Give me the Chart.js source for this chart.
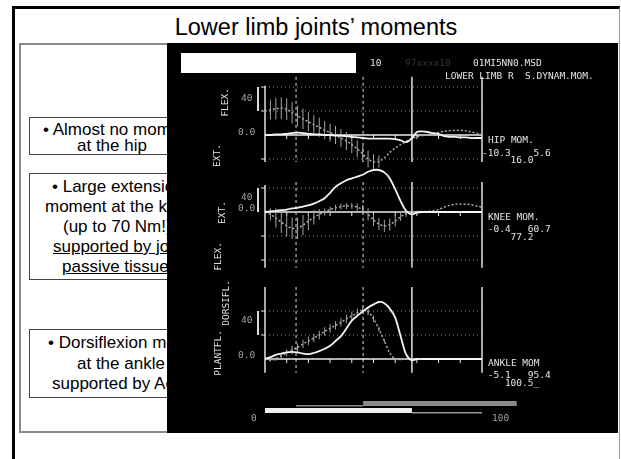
<!DOCTYPE html>
<html>
<head>
<meta charset="utf-8">
<title>Lower limb joints' moments</title>
<script src="https://cdn.jsdelivr.net/npm/chart.js@4.4.1/dist/chart.umd.min.js"></script>
<style>
  html, body { margin: 0; padding: 0; background: #fff; }
  #slide { position: relative; width: 621px; height: 459px; overflow: hidden; font-family: 'Liberation Sans', Arial, sans-serif; }
  .abs { position: absolute; }
  #frame { left: 12px; top: 6px; width: 604px; height: 470px; border-left: 3px solid #000; border-top: 3px solid #000; border-right: 1px solid #9a9a9a; }
  #title { left: 12px; width: 608px; top: 15px; font-size: 23.5px; line-height: 24px; text-align: center; color: #000; }
  #sidebox { left: 19px; top: 43px; width: 200px; height: 390px; box-sizing: border-box; border: 2px solid #8a8a8a; }
  .note { box-sizing: border-box; border: 1px solid #444; left: 29px; width: 190px; }
  .line { font-size: 17px; line-height: 20px; white-space: nowrap; color: #000; }
  .u { text-decoration: underline; }
  #panel { left: 167px; top: 43px; width: 451px; height: 390px; background: #000; }
  .mono { font-family: 'DejaVu Sans Mono', 'Liberation Mono', monospace; font-size: 9.5px; line-height: 10px; color: #e4e4e4; white-space: pre; }
  .vert { writing-mode: vertical-rl; transform: rotate(180deg); }
  .dim { color: #a0a0a0; }
</style>
</head>
<body>
<div id="slide">
  <div id="frame" class="abs"></div>
  <div id="title" class="abs">Lower limb joints’ moments</div>
  <div id="sidebox" class="abs"></div>

  <div class="abs note" style="top:117px;height:38px;"></div>
  <div class="abs line" style="left:43px;top:120px;">• Almost no moment</div>
  <div class="abs line" style="left:77px;top:136px;">at the hip</div>

  <div class="abs note" style="top:173px;height:107px;"></div>
  <div class="abs line" style="left:52px;top:177px;">• Large extension</div>
  <div class="abs line" style="left:45px;top:197px;">moment at the knee</div>
  <div class="abs line" style="left:63px;top:217px;">(up to 70 Nm!)</div>
  <div class="abs line u" style="left:53px;top:237px;">supported by joint</div>
  <div class="abs line u" style="left:62px;top:257px;">passive tissues</div>

  <div class="abs note" style="top:329px;height:69px;"></div>
  <div class="abs line" style="left:48px;top:333px;">• Dorsiflexion moment</div>
  <div class="abs line" style="left:77px;top:354px;">at the ankle</div>
  <div class="abs line" style="left:52px;top:374px;">supported by Achilles</div>

  <div id="panel" class="abs"><canvas id="moments" width="451" height="390"></canvas></div>

  <div class="abs" style="left:181px;top:53px;width:175px;height:20px;background:#fff;"></div>
  <div class="abs mono" style="left:370px;top:58px;">10</div>
  <div class="abs mono" style="left:405px;top:58px;color:#333;">97xxxx10</div>
  <div class="abs mono" style="left:473px;top:58px;">01MI5NN0.MSD</div>
  <div class="abs mono" style="left:445px;top:71px;">LOWER LIMB R  S.DYNAM.MOM.</div>

  <div class="abs mono vert" style="left:220px;top:88px;">FLEX.</div>
  <div class="abs mono vert" style="left:212px;top:144px;">EXT.</div>
  <div class="abs mono dim" style="left:241px;top:93px;">40</div>
  <div class="abs mono dim" style="left:238px;top:127px;">0.0</div>

  <div class="abs mono vert" style="left:217px;top:201px;">EXT.</div>
  <div class="abs mono vert" style="left:213px;top:242px;">FLEX.</div>
  <div class="abs mono dim" style="left:241px;top:192px;">40</div>
  <div class="abs mono dim" style="left:238px;top:203px;">0.0</div>

  <div class="abs mono vert" style="left:221px;top:280px;">DORSIFL.</div>
  <div class="abs mono vert" style="left:213px;top:330px;">PLANTFL.</div>
  <div class="abs mono dim" style="left:241px;top:315px;">40</div>
  <div class="abs mono dim" style="left:238px;top:350px;">0.0</div>

  <div class="abs mono" style="left:488px;top:135px;">HIP MOM.</div>
  <div class="abs mono" style="left:482px;top:148px;">-10.3    5.6</div>
  <div class="abs mono" style="left:482px;top:155px;">     16.0</div>

  <div class="abs mono" style="left:488px;top:212px;">KNEE MOM.</div>
  <div class="abs mono" style="left:482px;top:224px;"> -0.4   60.7</div>
  <div class="abs mono" style="left:482px;top:232px;">     77.2</div>

  <div class="abs mono" style="left:488px;top:358px;">ANKLE MOM</div>
  <div class="abs mono" style="left:482px;top:370px;"> -5.1   95.4</div>
  <div class="abs mono" style="left:482px;top:378px;">    100.5_</div>

  <div class="abs mono dim" style="left:251px;top:413px;">0</div>
  <div class="abs mono dim" style="left:492px;top:413px;">100</div>
</div>

<script>
// % of gait cycle
const gaitCycle = [0, 2.5, 5, 7.5, 10, 12.5, 15, 17.5, 20, 22.5, 25, 27.5, 30, 32.5, 35, 37.5, 40, 42.5, 45, 47.5,
    50, 52.5, 55, 57.5, 60, 62.5, 65, 67.5, 70, 72.5, 75, 77.5, 80, 82.5, 85, 87.5, 90, 92.5, 95, 97.5, 100];

// Hip moment (Nm)
const hipPatient = [0, 0, 1, 1, 2, 3, 4, 3, 2, 1, 1, 0, 0, -1, -1, -2, -3, -4, -5, -6,
    -6, -6, -6, -6, -7, -9, -12, -6, 5, 6, 5, 3, 2, -2, -3, -3, -4, -4, -5, -5, -5];
const hipNormal = [40, 42, 44, 45, 43, 37, 32, 27, 22, 17, 13, 8, 4, 0, -5, -10, -16, -23, -31, -40,
    -45, -44, -38, -29, -22, -16, -11, -6, -3, -1, 1, 2, 4, 6, 7, 8, 8, 7, 5, 3, 1];
const hipSD = [10, 16, 18, 18, 18, 18, 17, 17, 16, 16, 16, 15, 15, 15, 15, 15, 14, 14, 14, 14,
    13, 10, 0, 0, 0, 0, 0, 0, 0, 0, 0, 0, 0, 0, 0, 0, 0, 0, 0, 0, 0];

// Knee moment (Nm)
const kneePatient = [0, 1, 2, 3, 4, 6, 7, 9, 11, 14, 18, 23, 32, 42, 48, 53, 56, 59, 62, 67,
    70, 70, 66, 56, 38, 18, 2, -4, -1, 0, 0, 0, 0, 0, 0, 0, 0, 0, 0, 0, 0];
const kneeNormal = [0, -4, -10, -17, -23, -27, -27, -22, -15, -9, -4, 0, 4, 7, 9, 10, 10, 8, 4, -4,
    -13, -20, -23, -21, -15, -8, -3, 0, 1, 1, 1, 2, 4, 8, 11, 13, 13, 13, 12, 10, 8];
const kneeSD = [4, 10, 16, 18, 18, 18, 18, 17, 15, 12, 9, 6, 5, 5, 5, 5, 5, 6, 8, 10,
    10, 10, 10, 10, 9, 7, 5, 0, 0, 0, 0, 0, 0, 0, 0, 0, 0, 0, 0, 0, 0];

// Ankle moment (Nm)
const anklePatient = [0, 3, 7, 9, 11, 12, 11, 9, 8, 10, 13, 17, 22, 30, 38, 51, 64, 72, 79, 86,
    91, 95, 93, 84, 69, 38, 8, -2, 0, 0, 0, 0, 0, 0, 0, 0, 0, 0, 0, 0, 0];
const ankleNormal = [0, -2, 0, 5, 10, 15, 19, 25, 30, 35, 40, 46, 51, 56, 61, 67, 72, 77, 82, 79,
    67, 50, 30, 10, 0, -1, 0, 0, 0, 0, 0, 0, 0, 0, 0, 0, 0, 0, 0, 0, 0];
const ankleSD = [2, 2, 3, 4, 6, 7, 7, 7, 7, 7, 7, 7, 7, 7, 7, 7, 7, 7, 6, 6,
    5, 4, 3, 0, 0, 0, 0, 0, 0, 0, 0, 0, 0, 0, 0, 0, 0, 0, 0, 0, 0];

// gait events (% cycle): contralateral foot off, contralateral foot strike, foot off
const dashedEvents = [14.3, 45.2];
const solidEvents = [67.7, 100];
const stanceBar = [0, 67.7];
const swingLine = [67.7, 100];
const otherStanceBar = [45.2, 116];
const otherLine = [14.3, 45.2];

// grid values and axis extents per joint (Nm)
const hipGrid = [80, 40, -40];
const kneeGrid = [40, -40, -80];
const ankleGrid = [80, 40];
const hipAxis = [82, -45];
const kneeAxis = [45, -93];
const ankleAxis = [120, -23];
const hipEventSpan = [97, -45];
const kneeEventSpan = [50, -93];
const ankleEventSpan = [120, -23];
const hipScaleBar = [40, 80];
const kneeScaleBar = [0, 40];
const ankleScaleBar = [40, 80];

const joints = [
    { scale: 'yHip', grid: hipGrid, axis: hipAxis, span: hipEventSpan, bar: hipScaleBar, mean: hipNormal, sd: hipSD },
    { scale: 'yKnee', grid: kneeGrid, axis: kneeAxis, span: kneeEventSpan, bar: kneeScaleBar, mean: kneeNormal, sd: kneeSD },
    { scale: 'yAnkle', grid: ankleGrid, axis: ankleAxis, span: ankleEventSpan, bar: ankleScaleBar, mean: ankleNormal, sd: ankleSD }
];

function seg(ctx, x1, y1, x2, y2) {
    ctx.beginPath();
    ctx.moveTo(x1, y1);
    ctx.lineTo(x2, y2);
    ctx.stroke();
}

// Frames, grids, SD hatching and gait bars
const gaitPanel = {
    id: 'gaitPanel',
    beforeDatasetsDraw(chart) {
        const ctx = chart.ctx;
        const xs = chart.scales.x;
        const px = v => xs.getPixelForValue(v);

        joints.forEach(j => {
            const ys = chart.scales[j.scale];
            const py = v => ys.getPixelForValue(v);
            ctx.save();

            // dotted grid
            ctx.strokeStyle = '#8e8e8e';
            ctx.lineWidth = 1;
            ctx.setLineDash([1, 3]);
            j.grid.forEach(g => seg(ctx, px(0), py(g), px(100), py(g)));

            // dashed events
            ctx.strokeStyle = '#e0e0e0';
            ctx.setLineDash([3, 3]);
            dashedEvents.forEach(e => seg(ctx, px(e), py(j.span[0]), px(e), py(j.span[1])));

            // solid events + left axis
            ctx.setLineDash([]);
            ctx.lineWidth = 1.5;
            solidEvents.forEach(e => seg(ctx, px(e), py(j.span[0]), px(e), py(j.span[1])));
            seg(ctx, px(0), py(j.axis[0]), px(0), py(j.axis[1]));

            // left ticks
            ctx.lineWidth = 1;
            j.grid.forEach(g => seg(ctx, px(0) - 4, py(g), px(0), py(g)));

            // zero line and its ticks
            ctx.lineWidth = 1.5;
            ctx.strokeStyle = '#ececec';
            seg(ctx, px(0), py(0), px(100), py(0));
            ctx.lineWidth = 1;
            for (let t = 10; t < 100; t += 10) seg(ctx, px(t), py(0), px(t), py(0) + 4);

            // scale bar
            ctx.fillStyle = '#dcdcdc';
            ctx.fillRect(px(0) - 8, py(j.bar[1]), 2, py(j.bar[0]) - py(j.bar[1]));

            // normal SD hatch
            ctx.strokeStyle = '#a4a4a4';
            ctx.lineWidth = 1;
            gaitCycle.forEach((p, i) => {
                if (j.sd[i] > 0) seg(ctx, px(p), py(j.mean[i] - j.sd[i]), px(p), py(j.mean[i] + j.sd[i]));
            });
            ctx.restore();
        });

        // gait bars at the bottom
        const b = chart.chartArea.bottom;
        ctx.save();
        ctx.fillStyle = '#8a8a8a';
        ctx.fillRect(px(otherStanceBar[0]), b - 32, px(otherStanceBar[1]) - px(otherStanceBar[0]), 5);
        ctx.fillRect(px(otherLine[0]), b - 28, px(otherLine[1]) - px(otherLine[0]), 1.5);
        ctx.fillStyle = '#f0f0f0';
        ctx.fillRect(px(stanceBar[0]), b - 25, px(stanceBar[1]) - px(stanceBar[0]), 5);
        ctx.fillStyle = '#9a9a9a';
        ctx.fillRect(px(swingLine[0]), b - 21, px(swingLine[1]) - px(swingLine[0]), 1.5);
        ctx.restore();
    }
};

function pts(values) {
    return gaitCycle.map((p, i) => ({ x: p, y: values[i] }));
}

const patientStyle = { borderColor: '#f4f4f4', borderWidth: 1.8, pointRadius: 0, tension: 0.3, fill: false };
const normalStyle = { borderColor: '#a8a8a8', borderWidth: 1.5, borderDash: [2, 2], pointRadius: 0, tension: 0.3, fill: false };

// 0.6 px per Nm; zero lines placed per joint
const hipZero = 92, kneeZero = 169, ankleZero = 316, pxPerNm = 0.6, plotH = 390;

new Chart(document.getElementById('moments'), {
    type: 'line',
    data: {
        datasets: [
            { label: 'Hip', data: pts(hipPatient), yAxisID: 'yHip', ...patientStyle },
            { label: 'Knee', data: pts(kneePatient), yAxisID: 'yKnee', ...patientStyle },
            { label: 'Ankle', data: pts(anklePatient), yAxisID: 'yAnkle', ...patientStyle },
            { label: 'Hip normal', data: pts(hipNormal), yAxisID: 'yHip', ...normalStyle },
            { label: 'Knee normal', data: pts(kneeNormal), yAxisID: 'yKnee', ...normalStyle },
            { label: 'Ankle normal', data: pts(ankleNormal), yAxisID: 'yAnkle', ...normalStyle }
        ]
    },
    options: {
        responsive: false,
        animation: false,
        devicePixelRatio: 1,
        layout: { padding: { left: 98, right: 136, top: 0, bottom: 0 } },
        plugins: { legend: { display: false }, tooltip: { enabled: false } },
        scales: {
            x: { type: 'linear', min: 0, max: 100, display: false },
            yHip: { bounds: 'data', min: hipZero / pxPerNm - plotH / pxPerNm, max: hipZero / pxPerNm, display: false },
            yKnee: { bounds: 'data', min: kneeZero / pxPerNm - plotH / pxPerNm, max: kneeZero / pxPerNm, display: false },
            yAnkle: { bounds: 'data', min: ankleZero / pxPerNm - plotH / pxPerNm, max: ankleZero / pxPerNm, display: false }
        }
    },
    plugins: [gaitPanel]
});
</script>
</body>
</html>
